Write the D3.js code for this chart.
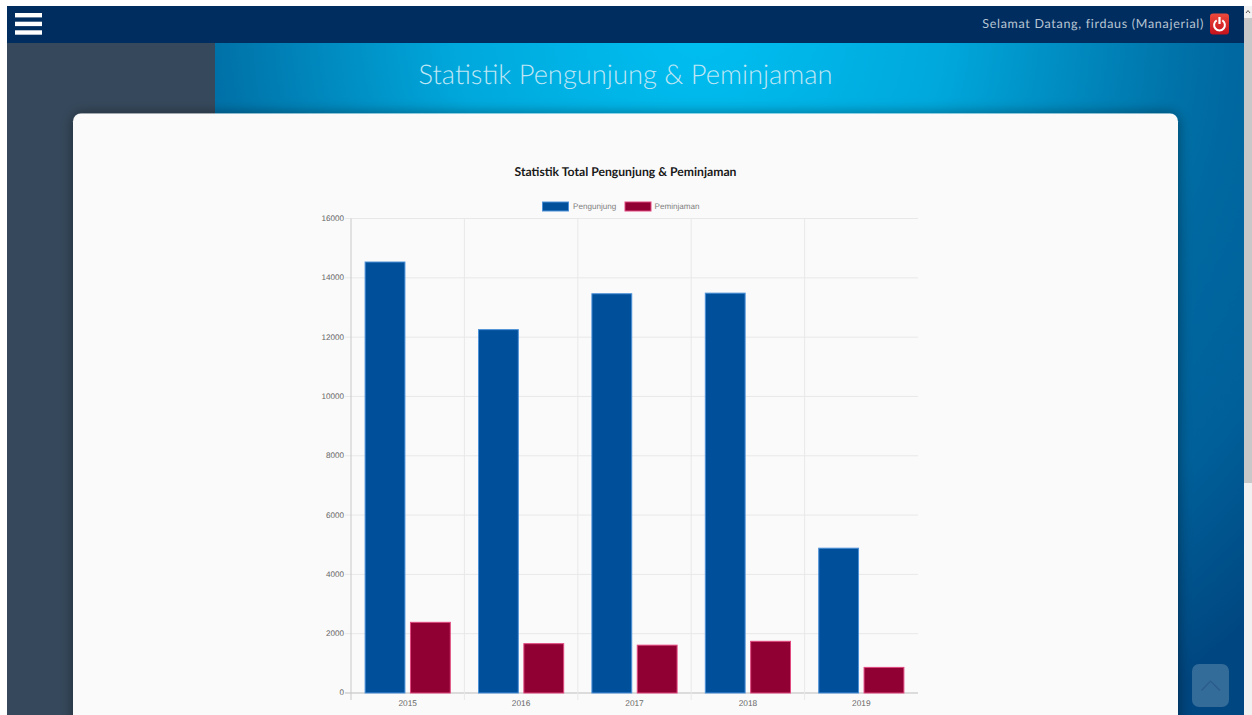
<!DOCTYPE html>
<html><head><meta charset="utf-8">
<style>html,body{margin:0;padding:0;background:#fff;overflow:hidden}svg{display:block}text{text-rendering:geometricPrecision}</style>
<script src="https://cdn.jsdelivr.net/npm/d3@7"></script></head><body>
<script>
const years = ["2015","2016","2017","2018","2019"];
const seriesNames = ["Pengunjung","Peminjaman"];
const pengunjung = [14550,12270,13480,13500,4900];
const peminjaman = [2400,1680,1630,1760,880];
const yTicks = [0,2000,4000,6000,8000,10000,12000,14000,16000];
const fills = ["#004f9b","#910032"];
const strokes = ["#4c91d8","#e0487f"];

const svg = d3.select("body").append("svg").attr("width",1252).attr("height",715);
const defs = svg.append("defs");
const rg = defs.append("radialGradient").attr("id","bg").attr("gradientUnits","userSpaceOnUse")
  .attr("cx",700).attr("cy",20).attr("r",820);
[[0,"#00c0f2"],[.3,"#00a8dc"],[.57,"#0075ab"],[.65,"#0068a0"],[.8,"#00609a"],[1,"#004680"]].forEach(d=>rg.append("stop").attr("offset",d[0]).attr("stop-color",d[1]));
const sh = defs.append("filter").attr("id","sh").attr("x","-5%").attr("y","-5%").attr("width","110%").attr("height","110%");
sh.append("feDropShadow").attr("dx",0).attr("dy",0).attr("stdDeviation",7).attr("flood-color","#000").attr("flood-opacity",.42);
const rb = defs.append("linearGradient").attr("id","pw").attr("x1",0).attr("x2",0).attr("y1",0).attr("y2",1);
rb.append("stop").attr("offset",0).attr("stop-color","#ef4a3c");
rb.append("stop").attr("offset",1).attr("stop-color","#c4121c");

// page frame
svg.append("rect").attr("x",7).attr("y",43).attr("width",1237).attr("height",672).attr("fill","url(#bg)");
svg.append("rect").attr("x",7).attr("y",43).attr("width",208).attr("height",672).attr("fill","#36495c");
svg.append("rect").attr("x",7).attr("y",6).attr("width",1237).attr("height",37).attr("fill","#002d60");
// hamburger
[13,21.7,30.3].forEach(y=>svg.append("rect").attr("x",15).attr("y",y).attr("width",27).attr("height",4.4).attr("fill","#fff"));
svg.append("text").attr("x",1204).attr("y",27.5).attr("text-anchor","end").attr("font-family","Lato").attr("font-size",12.5).attr("letter-spacing",.7).attr("fill","#b9c6d3").text("Selamat Datang, firdaus (Manajerial)");
// power button
const p = svg.append("g").attr("transform","translate(1219.5,24)");
p.append("rect").attr("x",-9.5).attr("y",-10.5).attr("width",19).attr("height",21).attr("rx",3).attr("fill","url(#pw)");
p.append("path").attr("d",d3.arc()({innerRadius:4.4,outerRadius:6.4,startAngle:.55,endAngle:Math.PI*2-.55})).attr("fill","#fff").attr("transform","translate(0,1)");
p.append("rect").attr("x",-1.1).attr("y",-7).attr("width",2.2).attr("height",7).attr("fill","#fff");
// heading
svg.append("text").attr("x",625.5).attr("y",84).attr("text-anchor","middle").attr("font-family","Lato").attr("font-weight",300).attr("font-size",27.3).attr("fill","#bfe6f5").text("Statistik Pengunjung & Peminjaman");
// card
svg.append("rect").attr("x",73).attr("y",113.5).attr("width",1105).attr("height",630).attr("rx",8).attr("fill","#fafafa").attr("filter","url(#sh)");

// chart
const plot = {l:351,r:918,t:218.5,b:693};
const x = d3.scaleBand().domain(years).range([plot.l,plot.r]).paddingInner(0).paddingOuter(0);
const x1 = d3.scaleBand().domain(seriesNames).range([x.bandwidth()*.1,x.bandwidth()*.9]).paddingInner(.1).paddingOuter(.05);
const y = d3.scaleLinear().domain([0,16000]).range([plot.b,plot.t]);

const gridY = svg.append("g");
yTicks.forEach(t=>{
  gridY.append("line").attr("x1",plot.l-6).attr("x2",plot.r).attr("y1",y(t)).attr("y2",y(t))
    .attr("stroke",t===0?"#bdbdbd":"#e8e8e8").attr("stroke-width",1);
});
years.forEach((c,i)=>{
  const px=x(c);
  svg.append("line").attr("x1",px).attr("x2",px).attr("y1",plot.t).attr("y2",plot.b+7).attr("stroke",i===0?"#c8c8c8":"#e8e8e8");
});
const axisY = svg.append("g").attr("transform",`translate(${plot.l-7},-0.6)`)
  .call(d3.axisLeft(y).tickValues(yTicks).tickSize(0).tickPadding(0).tickFormat(d3.format("d")));
axisY.select(".domain").remove();
axisY.selectAll("text").attr("font-family","Liberation Sans").attr("font-size",8.1).attr("fill","#666");
const axisX = svg.append("g").attr("transform",`translate(0,${plot.b+4})`)
  .call(d3.axisBottom(x).tickSize(0).tickPadding(3));
axisX.select(".domain").remove();
axisX.selectAll("text").attr("font-family","Liberation Sans").attr("font-size",8.3).attr("fill","#666");

[pengunjung,peminjaman].forEach((vals,s)=>{
  svg.append("g").selectAll("rect").data(vals).join("rect")
    .attr("x",(d,i)=>x(years[i])+x1(seriesNames[s])+.5)
    .attr("width",x1.bandwidth()-1)
    .attr("y",d=>y(d)+.5)
    .attr("height",d=>plot.b-y(d)-.5)
    .attr("fill",fills[s]).attr("stroke",strokes[s]).attr("stroke-width",1);
});

// legend
const lg = [{x:542,tx:573},{x:624.5,tx:654.5}];
seriesNames.forEach((n,i)=>{
  svg.append("rect").attr("x",lg[i].x+.5).attr("y",202).attr("width",26).attr("height",9).attr("fill",fills[i]).attr("stroke",strokes[i]);
  svg.append("text").attr("x",lg[i].tx).attr("y",209).attr("font-family","Liberation Sans").attr("font-size",8.1).attr("fill","#808080").text(n);
});
svg.append("text").attr("x",625.5).attr("y",176).attr("text-anchor","middle").attr("font-family","Lato").attr("font-weight",700).attr("font-size",12.2).attr("fill","#1a1a1a").text("Statistik Total Pengunjung & Peminjaman");

// back to top
svg.append("rect").attr("x",1192).attr("y",664).attr("width",37).attr("height",43).attr("rx",7).attr("fill","#fff").attr("fill-opacity",.2);
svg.append("path").attr("d","M1201.5 690.5L1210.5 681L1220 690.5").attr("fill","none").attr("stroke","#2a5c8c").attr("stroke-width",1.2);
// scrollbar
svg.append("rect").attr("x",1244).attr("y",6).attr("width",8).attr("height",709).attr("fill","#f1f1f1");
svg.append("rect").attr("x",1244).attr("y",18).attr("width",8).attr("height",465).attr("fill","#c8c8c8");
svg.append("path").attr("d","M1246 13L1248 10.5L1250 13").attr("fill","none").attr("stroke","#555");
</script></body></html>
